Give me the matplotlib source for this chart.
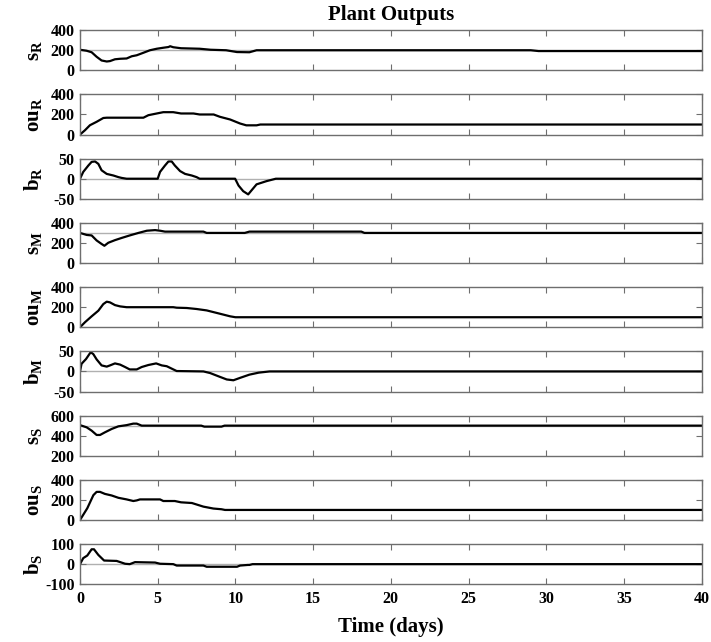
import numpy as np
import matplotlib
matplotlib.use("Agg")
from matplotlib import pyplot as plt

plt.rcParams["font.family"] = "Liberation Serif"
plt.rcParams["font.weight"] = "bold"
plt.rcParams["axes.unicode_minus"] = False
plt.rcParams["mathtext.fontset"] = "custom"
plt.rcParams["mathtext.rm"] = "Liberation Serif:bold"
plt.rcParams["mathtext.bf"] = "Liberation Serif:bold"
plt.rcParams["mathtext.it"] = "Liberation Serif:bold"

# s_R
sR_t = [0, 0.43, 0.75, 1.07, 1.39, 1.72, 1.93, 2.25, 2.58, 3.0, 3.33, 3.65, 4.08, 4.5, 4.94, 5.36,
        5.69, 5.8, 6.0, 6.5, 7.7, 8.4, 9.4, 10.1, 10.9, 11.36, 29.0, 29.5, 40]
sR_v = [205, 195, 180, 135, 98, 88, 92, 110, 115, 118, 140, 150, 175, 200, 215, 225,
        232, 240, 230, 220, 215, 205, 200, 182, 180, 200, 200, 192, 192]

# ou_R
ouR_t = [0, 0.32, 0.64, 1.07, 1.5, 1.72, 4.08, 4.4, 4.94, 5.36, 6.0, 6.5, 7.3, 7.7, 8.6, 9.0,
         9.66, 10.3, 10.7, 11.36, 11.6, 40]
ouR_v = [0, 43, 93, 127, 165, 168, 168, 193, 210, 223, 223, 210, 210, 200, 200, 177,
         150, 110, 92, 92, 100, 100]

# b_R
bR_t = [0, 0.21, 0.54, 0.75, 0.97, 1.18, 1.39, 1.72, 2.15, 2.47, 2.68, 3.0, 5.0, 5.15, 5.47,
        5.69, 5.9, 6.1, 6.44, 6.76, 7.19, 7.5, 7.7, 9.98, 10.2, 10.5, 10.82, 11.36, 12.0, 12.4,
        12.6, 40]
bR_v = [0, 17, 33, 42, 43, 37, 21, 12, 8, 4, 2, 0, 0, 17, 33,
        43, 43, 33, 19, 12, 8, 4, 0, 0, -17, -31, -39, -14, -6, -2,
        0, 0]

# s_M
sM_t = [0, 0.43, 0.75, 1.07, 1.39, 1.57, 1.82, 2.25, 2.68, 3.2, 3.76, 4.3, 4.83, 5.15, 5.47,
        7.94, 8.15, 10.6, 10.9, 18.1, 18.3, 40]
sM_v = [300, 280, 275, 225, 190, 172, 202, 228, 250, 275, 300, 322, 328, 322, 313,
        313, 300, 300, 313, 313, 300, 300]

# ou_M
ouM_t = [0, 0.32, 0.75, 1.18, 1.5, 1.72, 1.93, 2.25, 2.58, 3.0, 6.0, 6.22, 6.87, 7.5, 8.15,
         9.0, 9.66, 10.0, 40]
ouM_v = [0, 50, 109, 165, 231, 255, 248, 221, 208, 200, 200, 195, 192, 182, 168,
         135, 109, 100, 100]

# b_M
bM_t = [0, 0.1, 0.39, 0.69, 0.86, 1.07, 1.39, 1.72, 1.93, 2.25, 2.58, 2.9, 3.2, 3.65, 3.97,
        4.4, 4.9, 5.26, 5.58, 5.9, 6.22, 7.94, 8.37, 8.9, 9.44, 9.87, 10.3, 10.9, 11.5, 12.2,
        40]
bM_v = [0, 19, 31, 48, 43, 30, 15, 12, 15, 20, 17, 11, 5, 5, 11,
        16, 20, 15, 13, 7, 1, 0, -4, -12, -20, -22, -16, -8, -3, 0,
        0]

# s_S
sS_t = [0, 0.43, 0.75, 1.07, 1.29, 1.6, 2.04, 2.47, 3.0, 3.43, 3.65, 3.97, 7.8, 8.0, 9.1,
        9.3, 40]
sS_v = [505, 483, 450, 407, 407, 433, 467, 493, 505, 520, 520, 500, 500, 490, 490,
        500, 500]

# ou_S
ouS_t = [0, 0.17, 0.47, 0.86, 1.07, 1.29, 1.6, 2.04, 2.47, 3.0, 3.43, 3.65, 3.86, 5.15, 5.36,
         6.1, 6.5, 7.2, 7.94, 8.58, 9.1, 9.33, 40]
ouS_v = [0, 42, 117, 247, 280, 280, 260, 244, 221, 205, 189, 195, 205, 205, 189,
         189, 176, 169, 133, 114, 107, 100, 100]

# b_S
bS_t = [0, 0.21, 0.47, 0.75, 0.9, 1.18, 1.55, 2.36, 2.9, 3.2, 3.54, 4.83, 5.15, 6.0, 6.22,
        7.94, 8.15, 10.1, 10.3, 10.8, 10.9, 11.1, 40]
bS_v = [0, 30, 43, 74, 74, 46, 18, 16, 2, 0, 10, 8, 2, 0, -7,
        -7, -13, -13, -7, -4, -4, 0, 0]

panels = [
    (sR_t, sR_v, r"$\mathbf{s_R}$", (0, 400), [0, 200, 400], 200),
    (ouR_t, ouR_v, r"$\mathbf{ou_R}$", (0, 400), [0, 200, 400], None),
    (bR_t, bR_v, r"$\mathbf{b_R}$", (-50, 50), [-50, 0, 50], 0),
    (sM_t, sM_v, r"$\mathbf{s_M}$", (0, 400), [0, 200, 400], 300),
    (ouM_t, ouM_v, r"$\mathbf{ou_M}$", (0, 400), [0, 200, 400], None),
    (bM_t, bM_v, r"$\mathbf{b_M}$", (-50, 50), [-50, 0, 50], 0),
    (sS_t, sS_v, r"$\mathbf{s_S}$", (200, 600), [200, 400, 600], 500),
    (ouS_t, ouS_v, r"$\mathbf{ou_S}$", (0, 400), [0, 200, 400], None),
    (bS_t, bS_v, r"$\mathbf{b_S}$", (-100, 100), [-100, 0, 100], 0),
]

fig, axes = plt.subplots(9, 1, figsize=(7.11, 6.42), dpi=100, sharex=True)
fig.subplots_adjust(left=0.1125, right=0.987, top=0.953, bottom=0.09, hspace=0.6)

frame = "#6e6e6e"
for ax, (t, v, lab, ylim, yt, ref) in zip(axes, panels):
    if ref is not None:
        ax.axhline(ref, color="#b0b0b0", lw=1.0, zorder=1)
    ax.plot(t, v, color="black", lw=1.6, zorder=2)
    ax.set_xlim(0, 40)
    ax.set_ylim(*ylim)
    ax.set_yticks(yt)
    ax.set_xticks(np.arange(0, 41, 5))
    ax.tick_params(direction="in", top=True, right=True, length=4, width=0.8,
                   color=frame, labelsize=11.5)
    ax.tick_params(axis="y", pad=4)
    ax.tick_params(axis="x", pad=5)
    for sp in ax.spines.values():
        sp.set_color(frame)
        sp.set_linewidth(1.0)
    for lb in ax.get_yticklabels() + ax.get_xticklabels():
        lb.set_fontweight("bold")
    ax.set_ylabel(lab, fontsize=15)
    ax.yaxis.set_label_coords(-0.058, 0.5)

axes[-1].set_xlabel("Time (days)", fontsize=15, fontweight="bold", labelpad=7)
axes[0].set_title("Plant Outputs", fontsize=15, fontweight="bold", pad=7)

fig.savefig("out.png", dpi=100)
